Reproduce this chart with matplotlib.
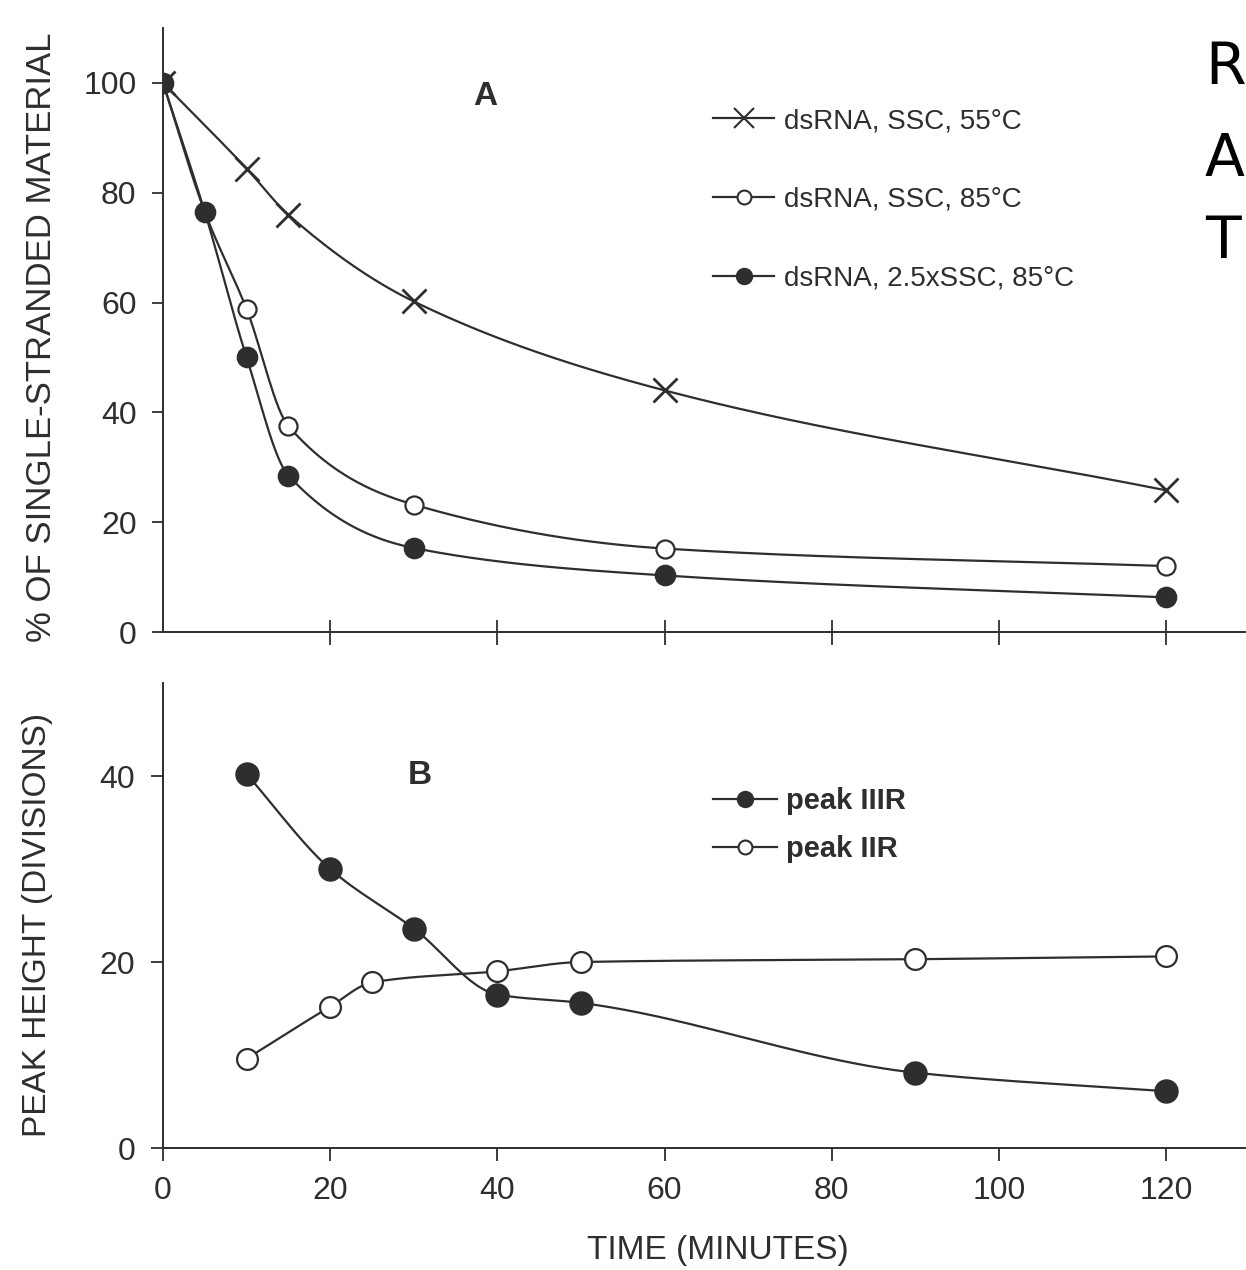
import numpy as np
import matplotlib
matplotlib.use("Agg")
import matplotlib.pyplot as plt
from matplotlib.lines import Line2D

# --- Panel A: % single-stranded material vs time ---
t_55 = [0, 10, 15, 30, 60, 120]
ss_55 = [100, 84.4, 76.0, 60.2, 44.0, 25.8]

t_85 = [0, 5, 10, 15, 30, 60, 120]
ss_85 = [100, 76.5, 58.8, 37.5, 23.2, 15.2, 12.0]

t_85x = [0, 5, 10, 15, 30, 60, 120]
ss_85x = [100, 76.5, 50.0, 28.5, 15.3, 10.3, 6.3]

labels_a = ['dsRNA, SSC, 55°C', 'dsRNA, SSC, 85°C', 'dsRNA, 2.5xSSC, 85°C']

# --- Panel B: peak height vs time ---
t_iiir = [10, 20, 30, 40, 50, 90, 120]
h_iiir = [40.2, 30.0, 23.6, 16.5, 15.6, 8.1, 6.1]

t_iir = [10, 20, 25, 40, 50, 90, 120]
h_iir = [9.6, 15.2, 17.8, 19.0, 20.0, 20.3, 20.6]

labels_b = ['peak IIIR', 'peak IIR']

INK = '#2e2e2e'
FONT = 'Liberation Sans'
plt.rcParams['font.family'] = [FONT, 'DejaVu Sans']


def smooth(x, y, n=400):
    """monotone cubic (Fritsch-Carlson) curve through the points, for the drawn line"""
    x = np.asarray(x, float)
    y = np.asarray(y, float)
    h = np.diff(x)
    d = np.diff(y) / h
    m = np.zeros_like(y)
    m[0], m[-1] = d[0], d[-1]
    for k in range(1, len(x) - 1):
        if d[k - 1] * d[k] > 0:
            w1 = 2 * h[k] + h[k - 1]
            w2 = h[k] + 2 * h[k - 1]
            m[k] = (w1 + w2) / (w1 / d[k - 1] + w2 / d[k])
    xs = np.linspace(x[0], x[-1], n)
    idx = np.clip(np.searchsorted(x, xs) - 1, 0, len(x) - 2)
    tt = (xs - x[idx]) / h[idx]
    h00 = 2 * tt**3 - 3 * tt**2 + 1
    h10 = tt**3 - 2 * tt**2 + tt
    h01 = -2 * tt**3 + 3 * tt**2
    h11 = tt**3 - tt**2
    ys = h00 * y[idx] + h10 * h[idx] * m[idx] + h01 * y[idx + 1] + h11 * h[idx] * m[idx + 1]
    return xs, ys


def series(ax, x, y, marker, face, ms):
    xs, ys = smooth(x, y)
    ax.plot(xs, ys, color=INK, lw=1.6, zorder=2)
    ax.plot(x, y, ls='none', marker=marker, ms=ms, mfc=face, mec=INK,
            mew=1.6 if marker != 'x' else 2.0, zorder=3)


def handle(marker, face, ms):
    return Line2D([], [], color=INK, lw=1.6, marker=marker, ms=ms, mfc=face,
                  mec=INK, mew=1.5)


fig = plt.figure(figsize=(12.46, 12.7), dpi=100)

W, H = 1246, 1270
x0 = 163
axA = fig.add_axes([x0 / W, 1 - 632 / H, (W - x0) / W, (632 - 28) / H])
axB = fig.add_axes([x0 / W, 1 - 1148 / H, (W - x0) / W, (1148 - 683) / H])

xmax = (W - x0) / 8.36

# panel A
series(axA, t_85, ss_85, 'o', 'white', 13)
series(axA, t_85x, ss_85x, 'o', INK, 14)
series(axA, t_55, ss_55, 'x', INK, 17)
axA.set_xlim(0, xmax)
axA.set_ylim(0, 110)
axA.set_yticks([0, 20, 40, 60, 80, 100])
axA.set_xticks([20, 40, 60, 80, 100, 120])
axA.tick_params(axis='x', direction='inout', length=18, width=1.3, color=INK,
                labelbottom=False)
axA.tick_params(axis='y', direction='out', length=8, width=1.3, color=INK,
                labelsize=23, pad=11, labelcolor=INK)
axA.text(0.298, 0.887, 'A', transform=axA.transAxes, fontsize=24,
         fontweight='bold', color=INK, ha='center', va='center')
legA = axA.legend([handle('x', INK, 15), handle('o', 'white', 10), handle('o', INK, 11)],
                  labels_a, loc='upper left', bbox_to_anchor=(713 / W, 1 - 108 / H),
                  bbox_transform=fig.transFigure, frameon=False, fontsize=20,
                  handlelength=2.2, handletextpad=0.35, labelspacing=1.9,
                  borderpad=0, borderaxespad=0)
for txt in legA.get_texts():
    txt.set_color(INK)

# panel B
series(axB, t_iir, h_iir, 'o', 'white', 15)
series(axB, t_iiir, h_iiir, 'o', INK, 16)
axB.set_xlim(0, xmax)
axB.set_ylim(0, 50)
axB.set_yticks([0, 20, 40])
axB.set_xticks([0, 20, 40, 60, 80, 100, 120])
axB.tick_params(axis='both', direction='out', length=9, width=1.3, color=INK,
                labelsize=23, labelcolor=INK)
axB.tick_params(axis='x', pad=11)
axB.tick_params(axis='y', pad=11)
axB.text((420 - x0) / (W - x0), (1148 - 775) / (1148 - 683), 'B',
         transform=axB.transAxes, fontsize=24, fontweight='bold', color=INK,
         ha='center', va='center')
legB = axB.legend([handle('o', INK, 11), handle('o', 'white', 10)], labels_b,
                  loc='upper left', bbox_to_anchor=(713 / W, 1 - 787 / H),
                  bbox_transform=fig.transFigure, frameon=False,
                  prop={'size': 21, 'weight': 'bold'},
                  handlelength=2.2, handletextpad=0.3, labelspacing=0.7,
                  borderpad=0, borderaxespad=0)
for txt in legB.get_texts():
    txt.set_color(INK)

for ax in (axA, axB):
    for side in ('top', 'right'):
        ax.spines[side].set_visible(False)
    for side in ('left', 'bottom'):
        ax.spines[side].set_color(INK)
        ax.spines[side].set_linewidth(1.4)
    ax.set_facecolor('none')

fig.text(42 / W, 1 - 337 / H, '% OF SINGLE-STRANDED MATERIAL', rotation=90,
         ha='center', va='center', fontsize=25, color=INK)
fig.text(38 / W, 1 - 925 / H, 'PEAK HEIGHT (DIVISIONS)', rotation=90,
         ha='center', va='center', fontsize=24, color=INK)
fig.text(718 / W, 1 - 1250 / H, 'TIME (MINUTES)', ha='center', va='center',
         fontsize=24, color=INK)

# handwritten side note at the right edge
for letter, yc in (('R', 67), ('A', 160), ('T', 242)):
    fig.text(1205 / W, 1 - yc / H, letter, ha='left', va='center',
             fontsize=42, color='black', family='DejaVu Sans')

fig.savefig('out.png', dpi=100, facecolor='white')
